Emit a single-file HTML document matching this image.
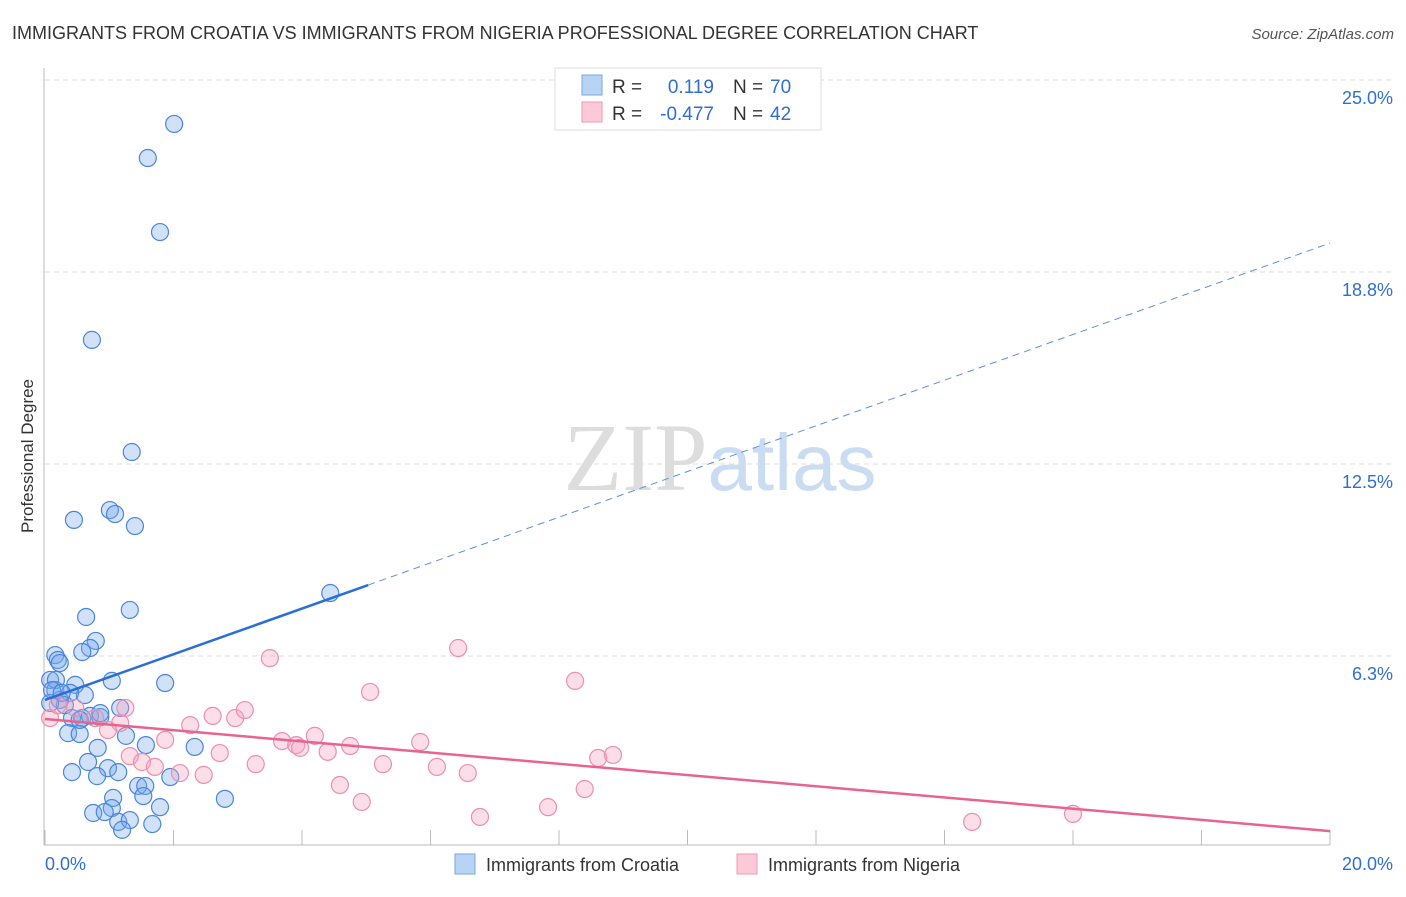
<!DOCTYPE html>
<html><head><meta charset="utf-8"><style>
body{margin:0;background:#fff;font-family:"Liberation Sans",sans-serif}
svg text{font-family:"Liberation Sans",sans-serif}
</style></head><body>
<svg id="chart" width="1406" height="892" viewBox="0 0 1406 892" xmlns="http://www.w3.org/2000/svg">
<text x="12" y="39" font-size="18" fill="#333">IMMIGRANTS FROM CROATIA VS IMMIGRANTS FROM NIGERIA PROFESSIONAL DEGREE CORRELATION CHART</text>
<text x="1394" y="39" font-size="15" font-style="italic" fill="#555" text-anchor="end">Source: ZipAtlas.com</text>
<text x="720" y="490" font-size="96" text-anchor="middle"><tspan fill="#ddd" font-family="Liberation Serif">ZIP</tspan><tspan fill="#c9dcf2" font-size="80">atlas</tspan></text>
<g id="grid"></g><g id="axes"></g><g id="pts"></g><g id="lines"></g>
<text transform="translate(33,456) rotate(-90)" font-size="17" fill="#333" text-anchor="middle">Professional Degree</text>
<g>
<rect x="555" y="68" width="266" height="62" fill="#fff" stroke="#ddd"/>
<rect x="582" y="75" width="20" height="20" fill="#b8d4f5" stroke="#7aa7e0"/>
<rect x="582" y="102" width="20" height="20" fill="#fcc9d8" stroke="#ef9ab6"/>
<text x="612" y="93" font-size="19" fill="#333">R =</text><text x="714" y="93" font-size="19" fill="#2f6fd0" text-anchor="end">0.119</text>
<text x="733" y="93" font-size="19" fill="#333">N =</text><text x="770" y="93" font-size="19" fill="#2f6fd0">70</text>
<text x="612" y="120" font-size="19" fill="#333">R =</text><text x="714" y="120" font-size="19" fill="#2f6fd0" text-anchor="end">-0.477</text>
<text x="733" y="120" font-size="19" fill="#333">N =</text><text x="770" y="120" font-size="19" fill="#2f6fd0">42</text>
</g>
<g>
<rect x="455" y="854" width="20" height="20" fill="#b8d4f5" stroke="#7aa7e0"/>
<text x="486" y="871" font-size="18" fill="#333">Immigrants from Croatia</text>
<rect x="737" y="854" width="20" height="20" fill="#fcc9d8" stroke="#ef9ab6"/>
<text x="768" y="871" font-size="18" fill="#333">Immigrants from Nigeria</text>
</g>
</svg>
<script>
const yTicks=[25.0,18.75,12.5,6.25];
const yTickLabels=["25.0%","18.8%","12.5%","6.3%"];
const xTicks=[0,2,4,6,8,10,12,14,16,18,20];
const croatiaX=[2.01,1.60,1.79,0.73,1.35,0.45,1.01,1.09,1.40,4.44,0.64,1.32,0.79,0.70,0.58,0.16,0.20,0.23,0.08,1.04,1.87,0.16,0.47,0.62,0.39,0.23,0.31,0.08,1.17,0.42,0.58,0.70,0.86,0.36,0.54,1.26,0.82,1.57,2.33,0.67,0.98,1.14,0.42,0.81,1.95,1.45,1.56,1.53,2.80,1.06,1.04,1.79,0.75,0.93,1.14,1.32,1.67,1.20,0.17,0.11,0.26,0.54,0.86];
const croatiaY=[23.57,22.46,20.05,16.54,12.89,10.68,11.00,10.87,10.48,8.30,7.52,7.75,6.74,6.51,6.38,6.28,6.12,6.02,5.47,5.44,5.37,5.14,5.31,4.98,5.05,4.82,4.65,4.72,4.56,4.23,4.23,4.30,4.26,3.74,3.71,3.65,3.26,3.35,3.29,2.80,2.60,2.47,2.47,2.34,2.31,2.02,2.02,1.69,1.60,1.63,1.30,1.33,1.14,1.17,0.85,0.91,0.78,0.59,5.47,5.14,5.05,4.17,4.39];
const nigeriaX=[6.43,3.50,8.25,5.06,0.08,0.20,0.47,0.78,1.17,1.25,0.98,2.26,2.61,2.96,3.11,1.87,2.72,3.69,3.91,3.97,4.20,4.75,4.40,5.84,1.32,1.51,1.71,2.10,2.47,3.28,5.26,6.10,6.58,8.61,8.84,4.59,4.93,8.40,7.83,6.77,14.43,16.00];
const nigeriaY=[6.51,6.18,5.44,5.08,4.23,4.65,4.56,4.23,4.07,4.56,3.84,4.00,4.30,4.23,4.49,3.52,3.09,3.48,3.35,3.26,3.65,3.32,3.13,3.45,2.99,2.80,2.64,2.44,2.38,2.73,2.73,2.64,2.44,2.93,3.03,2.05,1.50,1.92,1.33,1.01,0.85,1.11];
const croatiaTrend=[4.82,19.69]; const croatiaSolidEnd=5.03;
const nigeriaTrend=[4.20,0.55];
const NS="http://www.w3.org/2000/svg";
const X=v=>45+v*64.25, Y=v=>848-v*30.72;
function mk(t,a,p){const e=document.createElementNS(NS,t);for(const k in a)e.setAttribute(k,a[k]);document.getElementById(p).appendChild(e);return e;}
yTicks.forEach((t,i)=>{
 const g=mk('line',{x1:45,x2:1395,y1:Y(t),y2:Y(t),stroke:'#ddd','stroke-dasharray':'5,4'},'grid');
 
 
 const l=mk('text',{x:1393,y:Y(t)+24,'font-size':18,fill:'#2f6fd0','text-anchor':'end'},'grid');
 l.textContent=yTickLabels[i];
 
 
});
const ax=mk('line',{x1:44,x2:44,y1:68,y2:845,stroke:'#bbb'},'axes');


const bx=mk('line',{x1:44,x2:1330,y1:845,y2:845,stroke:'#bbb'},'axes');


xTicks.forEach(t=>{const k=mk('line',{x1:X(t),x2:X(t),y1:830,y2:845,stroke:'#bbb'},'axes');
 
 });
[[0,"0.0%","start",45],[20,"20.0%","end",1393]].forEach(d=>{const l=mk('text',{x:d[3],y:870,'font-size':18,fill:'#2f6fd0','text-anchor':d[2]},'axes');l.textContent=d[1];
 
 });
croatiaX.forEach((v,i)=>{const c=mk('circle',{cx:X(v),cy:Y(croatiaY[i]),r:8.5,fill:'rgba(120,170,235,0.35)',stroke:'#4a86dc','stroke-width':1.2},'pts');
 
 });
nigeriaX.forEach((v,i)=>{const c=mk('circle',{cx:X(v),cy:Y(nigeriaY[i]),r:8.5,fill:'rgba(245,160,190,0.35)',stroke:'#eb8fae','stroke-width':1.2},'pts');
 
 });
const cy=x=>croatiaTrend[0]+(croatiaTrend[1]-croatiaTrend[0])*x/20;
const l1=mk('line',{x1:X(0),y1:Y(cy(0)),x2:X(croatiaSolidEnd),y2:Y(cy(croatiaSolidEnd)),stroke:'#2a6fd6','stroke-width':2.5},'lines');


const l2=mk('line',{x1:X(croatiaSolidEnd),y1:Y(cy(croatiaSolidEnd)),x2:X(20),y2:Y(cy(20)),stroke:'#5b8fdc','stroke-width':1,'stroke-dasharray':'7,5'},'lines');


const l3=mk('line',{x1:X(0),y1:Y(nigeriaTrend[0]),x2:X(20),y2:Y(nigeriaTrend[1]),stroke:'#e8648f','stroke-width':2.5},'lines');


</script>
</body></html>
